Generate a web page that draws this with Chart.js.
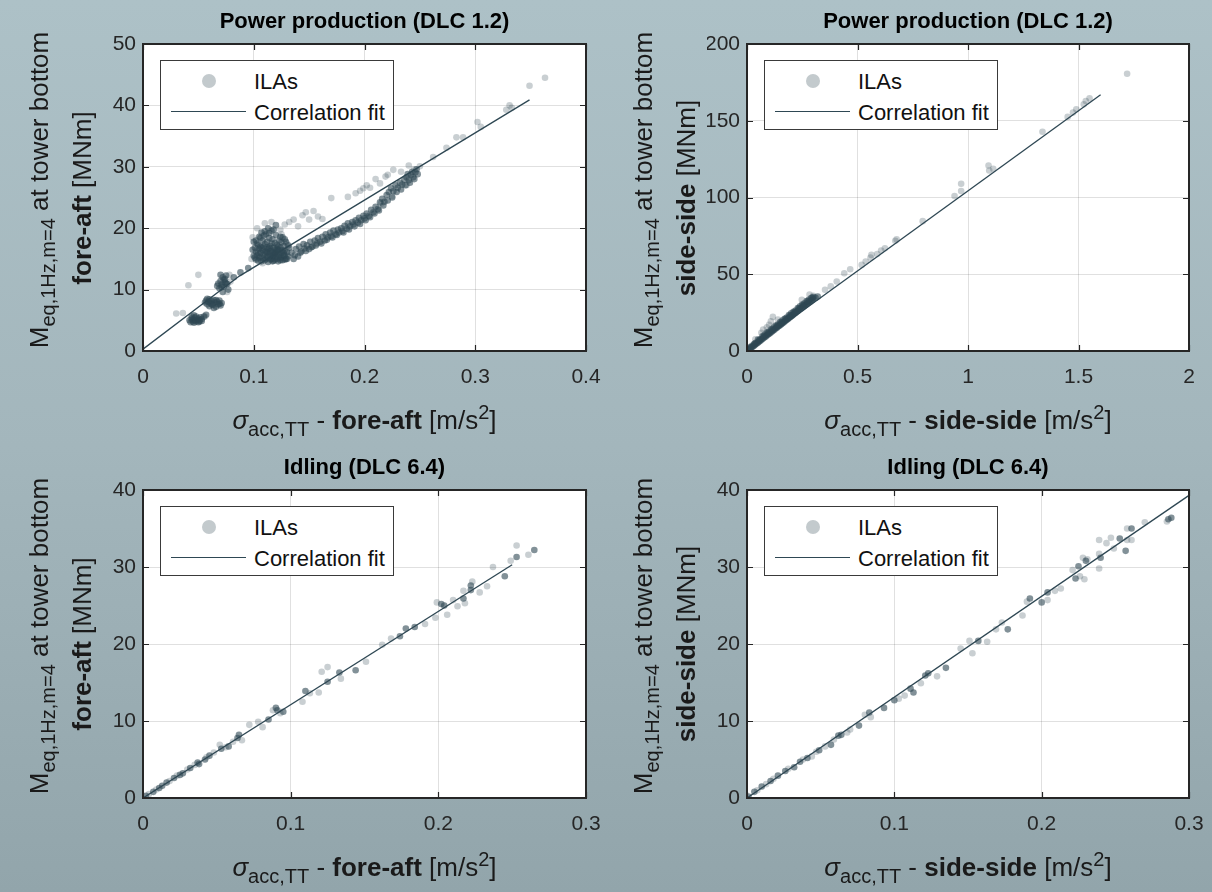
<!DOCTYPE html>
<html>
<head>
<meta charset="utf-8">
<script src="https://cdn.jsdelivr.net/npm/chart.js@4.4.1/dist/chart.umd.min.js"></script>
<style>
  html, body { margin: 0; padding: 0; }
  body {
    width: 1212px; height: 892px; position: relative; overflow: hidden;
    background: linear-gradient(180deg, #adc1c7 0%, #a3b6bc 50%, #92a5ab 100%);
    font-family: 'Liberation Sans', Arial, sans-serif; color: #111;
  }
  canvas { position: absolute; }
  .lbl { position: absolute; white-space: nowrap; transform: translate(-50%, -50%); line-height: 1; }
  .title { font-weight: bold; font-size: 22px; color: #000; }
  .axt { font-size: 26px; color: #1a1a1a; }
  .ylab { transform: translate(-50%, -50%) rotate(-90deg); }
  .axt .sb { font-size: 20px; position: relative; top: 7px; }
  .axt .sp { font-size: 20px; position: relative; top: -10px; }
  .legend { position: absolute; width: 232px; height: 68px; background: #fff; border: 1px solid #3a3a3a; }
  .legend .mk { position: absolute; left: 41px; top: 13px; width: 14px; height: 14px; border-radius: 50%; background: #c3cacd; }
  .legend .ln { position: absolute; left: 10px; top: 50px; width: 75px; height: 0; border-top: 1.3px solid #2e4753; }
  .legend .tx { position: absolute; left: 93px; font-size: 22px; color: #111; line-height: 1; }
</style>
</head>
<body>
<script>
// ---- Text ----
const titles = ['Power production (DLC 1.2)', 'Power production (DLC 1.2)', 'Idling (DLC 6.4)', 'Idling (DLC 6.4)'];
const directions = ['fore-aft', 'side-side', 'fore-aft', 'side-side'];
const legendLabels = ['ILAs', 'Correlation fit'];

// ---- Axis ranges: [min, max, step] ----
const xRanges = [[0, 0.4, 0.1], [0, 2, 0.5], [0, 0.3, 0.1], [0, 0.3, 0.1]];
const yRanges = [[0, 50, 10], [0, 200, 50], [0, 40, 10], [0, 40, 10]];

// ---- Power production, fore-aft ----
const ppFaDense = [
  [0.042,5.0],[0.043,4.7],[0.044,5.3],[0.045,4.8],[0.045,5.1],[0.046,4.6],[0.047,5.0],[0.047,5.4],[0.048,4.8],[0.049,5.1],
  [0.050,4.7],[0.050,5.3],[0.051,5.0],[0.052,5.5],[0.053,5.2],[0.055,5.6],[0.057,5.9],[0.044,5.6],[0.046,5.8],
  [0.048,5.6],[0.051,4.8],[0.053,4.9],
  [0.056,7.9],[0.057,8.2],[0.058,7.6],[0.059,8.0],[0.060,8.4],[0.061,7.8],[0.062,8.1],[0.063,7.5],[0.064,8.3],[0.065,7.9],
  [0.066,7.2],[0.067,8.0],[0.068,7.6],[0.069,8.2],[0.070,7.4],[0.071,7.8],[0.060,7.3],[0.064,7.0],[0.058,8.5],
  [0.062,7.6],[0.066,8.3],[0.069,7.7],
  [0.067,10.6],[0.068,11.0],[0.069,10.2],[0.070,11.4],[0.071,10.8],[0.072,12.0],[0.073,10.5],[0.074,11.2],[0.075,12.3],
  [0.076,10.9],[0.077,10.0],[0.072,9.6],[0.070,12.4],[0.074,11.7],[0.071,10.4],[0.073,11.6],[0.075,11.0],
  [0.082,12.0],[0.088,12.8],[0.095,13.5],
  [0.100,15.5],[0.101,16.8],[0.102,14.9],[0.103,17.5],[0.104,16.0],[0.105,18.6],[0.105,15.2],[0.106,17.0],[0.107,14.6],[0.107,19.3],
  [0.108,16.4],[0.108,18.0],[0.109,15.7],[0.110,17.4],[0.110,14.8],[0.111,16.2],[0.111,19.0],[0.112,15.4],[0.112,17.8],[0.113,16.6],
  [0.113,14.5],[0.114,18.4],[0.114,15.9],[0.115,17.1],[0.115,14.9],[0.116,16.3],[0.116,19.6],[0.117,15.3],[0.117,18.2],[0.118,16.8],
  [0.118,14.7],[0.119,17.6],[0.119,15.8],[0.120,16.2],[0.120,18.9],[0.121,15.0],[0.121,17.3],[0.122,16.5],[0.122,14.6],[0.123,18.0],
  [0.123,15.6],[0.124,16.9],[0.124,15.1],[0.125,17.7],[0.125,16.0],[0.126,14.8],[0.126,18.5],[0.127,15.5],[0.127,17.1],[0.128,16.3],
  [0.129,15.0],[0.129,17.8],[0.130,16.1],[0.131,15.4],[0.132,16.8],[0.104,17.2],[0.109,18.8],[0.113,20.0],[0.118,19.8],[0.120,20.5],
  [0.106,16.0],[0.112,16.1],[0.116,15.0],[0.119,16.5],[0.122,17.0],[0.115,15.5],[0.117,16.0],[0.121,15.9],[0.125,15.3],[0.128,14.9],
  [0.101,15.2],[0.102,16.2],[0.103,15.6],[0.104,14.7],[0.105,16.6],[0.106,15.4],[0.107,16.8],[0.108,15.1],[0.109,17.0],[0.110,16.0],
  [0.111,15.0],[0.112,16.9],[0.113,15.2],[0.114,16.8],[0.115,16.2],[0.116,17.5],[0.117,14.6],[0.118,15.6],[0.119,14.9],[0.120,15.4],
  [0.121,16.6],[0.122,15.3],[0.123,16.3],[0.124,14.8],[0.126,16.4],[0.127,16.0],[0.128,15.6],[0.130,15.0],[0.102,18.0],[0.106,18.4],
  [0.110,19.5],[0.114,19.2],[0.124,18.6],[0.128,18.2],[0.131,17.2],[0.099,16.5],[0.100,17.8],
  [0.134,16.0],[0.136,15.0],[0.138,16.6],[0.140,15.4],[0.141,17.0],[0.143,16.2],[0.145,17.4],[0.146,16.7],[0.148,17.2],[0.150,16.6],
  [0.151,17.8],[0.153,17.0],[0.155,18.0],[0.157,17.5],[0.158,18.4],[0.160,17.8],[0.162,18.6],[0.164,18.0],[0.165,19.0],[0.167,18.5],
  [0.169,19.3],[0.170,18.7],[0.172,19.6],[0.174,19.0],[0.176,19.8],[0.177,19.3],[0.179,20.0],[0.180,19.5],[0.182,20.4],[0.184,19.9],
  [0.185,20.8],[0.187,20.3],[0.189,21.0],[0.190,20.6],[0.192,21.3],[0.194,20.9],[0.195,21.7],[0.197,21.3],[0.199,22.0],[0.200,21.6],
  [0.202,22.4],[0.204,22.0],[0.206,23.0],[0.208,22.6],[0.210,23.5],[0.212,23.1],[0.214,24.2],[0.216,24.8],[0.218,24.3],[0.220,25.4],
  [0.222,25.9],[0.224,26.5],[0.226,26.0],[0.228,27.0],[0.230,26.6],[0.232,27.4],[0.234,27.1],[0.236,27.9],[0.238,28.3],[0.240,27.8],
  [0.242,28.7],[0.244,28.3],[0.246,29.1],[0.248,28.8],
  [0.137,15.6],[0.142,16.0],[0.147,16.3],[0.152,16.9],[0.156,17.2],[0.161,17.5],[0.166,18.1],[0.171,18.5],[0.175,18.9],[0.181,19.3],
  [0.186,19.8],[0.191,20.3],[0.196,20.7],[0.201,21.3],[0.205,21.8],[0.209,22.4],[0.213,22.9],[0.217,23.7],[0.221,24.5],[0.225,25.0],
  [0.229,25.9],[0.233,26.3],[0.237,27.0],[0.241,27.4],[0.245,28.0],[0.247,29.6],[0.243,29.2],[0.239,28.8]
];
const ppFaFaint = [
  [0.030,6.1],[0.036,6.2],[0.041,10.7],[0.050,12.4],[0.056,5.6],[0.078,12.4],[0.079,11.3],[0.076,9.6],[0.098,15.0],[0.099,18.5],
  [0.103,20.0],[0.110,20.8],[0.116,21.0],[0.124,19.8],[0.128,20.6],[0.132,21.0],[0.136,21.4],[0.140,20.3],[0.144,22.1],[0.147,22.6],
  [0.150,21.4],[0.154,22.8],[0.158,21.9],[0.162,21.5],[0.170,24.9],[0.185,25.1],[0.192,25.7],[0.196,26.1],[0.199,26.5],[0.202,27.0],
  [0.205,26.6],[0.210,28.0],[0.214,27.3],[0.219,28.4],[0.221,28.7],[0.226,29.5],[0.233,29.2],[0.240,30.2],[0.245,29.6],[0.250,30.1],
  [0.262,31.6],[0.274,33.1],[0.283,34.8],[0.289,34.8],[0.302,37.3],[0.305,36.5],[0.328,39.3],[0.331,40.0],[0.333,39.6],[0.349,43.2],
  [0.363,44.5],[0.125,19.0],[0.108,14.3],[0.130,17.5],[0.215,24.0],[0.225,25.2],[0.238,27.0]
];
const ppFaFitX = [0, 0.087, 0.349];
const ppFaFitY = [0.3, 12.2, 40.9];

// ---- Power production, side-side ----
const ppSsDense = [
  [0.005,0.6],[0.010,1.2],[0.015,1.6],[0.020,2.2],[0.025,2.8],[0.030,3.3],[0.035,3.9],[0.040,4.5],[0.045,5.0],[0.050,5.6],
  [0.055,6.2],[0.060,6.6],[0.065,7.3],[0.070,8.0],[0.075,8.4],[0.080,9.1],[0.085,9.5],[0.090,10.2],[0.095,10.7],[0.100,11.3],
  [0.105,11.7],[0.110,12.5],[0.115,12.9],[0.120,13.6],[0.125,14.0],[0.130,14.8],[0.135,15.2],[0.140,15.9],[0.145,16.3],[0.150,17.0],
  [0.155,17.4],[0.160,18.1],[0.165,18.6],[0.170,19.2],[0.175,19.8],[0.180,20.4],[0.185,20.9],[0.190,21.6],[0.195,22.0],[0.200,22.7],
  [0.205,23.2],[0.210,23.8],[0.215,24.4],[0.220,25.0],[0.225,25.5],[0.230,26.1],[0.235,26.7],[0.240,27.3],[0.245,27.7],[0.250,28.4],
  [0.255,28.9],[0.260,29.5],[0.265,30.0],[0.270,30.6],[0.275,31.1],[0.280,31.7],[0.285,32.1],[0.290,32.8],[0.295,33.2],[0.300,33.9],
  [0.310,34.6],[0.320,35.5],
  [0.050,7.4],[0.070,9.6],[0.090,12.0],[0.110,14.2],[0.130,16.5],[0.150,18.8],[0.170,21.0],[0.190,23.4],[0.210,25.6],[0.230,28.0],
  [0.250,30.2],[0.270,32.6],[0.290,34.5],[0.080,10.6],[0.120,15.2],[0.160,19.9],[0.200,24.5],[0.240,29.2],[0.280,33.4],
  [0.020,3.0],[0.030,4.2],[0.040,5.4],[0.060,7.7],[0.100,12.6],[0.140,17.2],[0.180,21.8],[0.220,26.4],[0.260,31.0],[0.300,35.2],
  [0.015,2.4],[0.035,4.8],[0.055,7.0],[0.075,9.4],[0.095,11.7],[0.115,13.9],[0.135,16.3],[0.155,18.5],[0.175,20.9],[0.195,23.1],
  [0.215,25.4],[0.235,27.8],[0.255,30.0],[0.275,32.4],[0.295,34.7]
];
const ppSsFaint = [
  [0.038,7.6],[0.065,11.9],[0.073,14.0],[0.108,19.4],[0.117,22.2],[0.090,15.5],[0.100,17.0],[0.140,20.5],[0.248,33.4],[0.283,36.7],
  [0.300,36.0],[0.353,39.9],[0.379,42.1],[0.406,45.3],[0.440,50.7],[0.467,53.3],[0.519,56.1],[0.537,58.3],[0.559,60.8],[0.563,62.6],
  [0.589,63.2],[0.607,65.4],[0.624,66.9],[0.671,71.8],[0.677,72.7],[0.795,84.6],[0.939,101.0],[0.969,104.2],[0.969,109.0],[1.093,120.8],
  [1.096,117.6],[1.114,118.7],[1.337,142.8],[1.451,152.5],[1.475,155.3],[1.490,157.5],[1.524,160.7],[1.533,162.9],[1.550,164.6],[1.720,180.6]
];
const ppSsFitX = [0, 1.6];
const ppSsFitY = [0, 167];

// ---- Idling, fore-aft ----
const idFaDense = [
  [0.265,32.2],[0.253,31.3],[0.245,28.8],[0.222,27.6],[0.222,27.0],[0.217,25.9],[0.202,25.2],[0.184,22.2],[0.178,22.0],[0.174,21.0],
  [0.144,16.6],[0.133,16.3],[0.125,15.1],[0.110,13.9],[0.095,11.2],[0.090,11.7],[0.085,10.2],[0.065,8.2],[0.064,7.8],[0.058,6.7],
  [0.053,6.4],[0.045,5.5],[0.042,5.0],[0.037,4.6],[0.032,3.9],[0.027,3.2],[0.021,2.6],[0.016,2.0],[0.011,1.3],[0.007,0.8],
  [0.002,0.3],[0.091,11.4],[0.204,25.0],[0.038,4.4],[0.025,3.0],[0.013,1.6]
];
const idFaFaint = [
  [0.253,32.8],[0.261,31.6],[0.249,30.8],[0.237,30.0],[0.233,27.5],[0.228,26.7],[0.223,28.1],[0.217,26.9],[0.218,25.3],[0.213,24.9],
  [0.210,25.7],[0.206,23.8],[0.199,25.4],[0.198,23.4],[0.191,22.6],[0.168,20.7],[0.162,19.9],[0.151,17.7],[0.134,15.5],[0.125,17.0],
  [0.121,16.4],[0.119,13.7],[0.113,13.6],[0.108,12.5],[0.088,11.4],[0.093,11.0],[0.081,9.2],[0.078,9.9],[0.072,9.5],[0.067,7.5],
  [0.052,6.9],[0.048,5.9],[0.035,4.3],[0.030,3.7],[0.023,2.9],[0.018,2.2],[0.009,1.1],[0.004,0.5],[0.061,7.3],[0.056,6.6],[0.043,5.3]
];
const idFaFitX = [0, 0.25];
const idFaFitY = [0, 30.3];

// ---- Idling, side-side ----
const idSsDense = [
  [0.288,36.4],[0.261,35.0],[0.253,33.7],[0.257,32.1],[0.240,31.2],[0.230,30.8],[0.225,30.1],[0.223,28.5],[0.204,26.7],[0.200,25.4],
  [0.192,25.9],[0.177,21.9],[0.157,20.4],[0.135,16.9],[0.123,16.2],[0.121,15.9],[0.113,13.7],[0.111,14.2],[0.100,12.7],[0.093,11.7],
  [0.083,11.1],[0.076,9.4],[0.064,8.2],[0.062,8.1],[0.057,6.9],[0.049,6.2],[0.032,4.0],[0.026,3.5],[0.021,2.9],[0.016,2.2],
  [0.010,1.5],[0.005,0.8],[0.001,0.2],[0.286,36.2],[0.041,5.2],[0.036,4.7]
];
const idSsFaint = [
  [0.285,35.9],[0.270,35.8],[0.258,35.0],[0.258,33.5],[0.261,33.5],[0.247,33.8],[0.244,33.1],[0.249,32.4],[0.239,33.5],[0.239,31.7],
  [0.239,29.8],[0.228,31.2],[0.231,31.0],[0.221,29.6],[0.229,28.4],[0.226,28.8],[0.213,27.2],[0.209,26.9],[0.204,25.7],[0.190,25.5],
  [0.187,23.7],[0.173,22.8],[0.169,21.9],[0.163,20.3],[0.151,20.4],[0.153,18.8],[0.145,19.4],[0.129,15.8],[0.118,14.9],[0.107,13.3],
  [0.103,12.9],[0.084,10.5],[0.068,8.5],[0.053,6.7],[0.044,5.4],[0.038,5.0],[0.080,10.8],[0.070,8.9],[0.059,7.6],[0.047,6.0],
  [0.028,3.8],[0.018,2.5],[0.013,1.8],[0.007,1.0]
];
const idSsFitX = [0, 0.3];
const idSsFitY = [0, 39.3];

// ---- Panel arrangement ----
const series = [
  { dense: ppFaDense, faint: ppFaFaint, fitX: ppFaFitX, fitY: ppFaFitY },
  { dense: ppSsDense, faint: ppSsFaint, fitX: ppSsFitX, fitY: ppSsFitY },
  { dense: idFaDense, faint: idFaFaint, fitX: idFaFitX, fitY: idFaFitY },
  { dense: idSsDense, faint: idSsFaint, fitX: idSsFitX, fitY: idSsFitY }
];
// canvas origin and plot box (page pixels)
const boxes = [
  { cx: 0,   cy: 0,   left: 143, right: 586,  top: 44,  bottom: 351 },
  { cx: 606, cy: 0,   left: 747, right: 1189, top: 44,  bottom: 351 },
  { cx: 0,   cy: 446, left: 143, right: 586,  top: 490, bottom: 798 },
  { cx: 606, cy: 446, left: 747, right: 1189, top: 490, bottom: 798 }
];
const CW = 606, CH = 446, Y_AXIS_W = 40, X_AXIS_H = 34;
const MARK = '#2e4753';
const TICK_FONT = { family: "'Liberation Sans', Arial, sans-serif", size: 21 };

const toPts = arr => arr.map(p => ({ x: p[0], y: p[1] }));
const fmt = v => String(Number(v.toFixed(3)));

// white plot background, black box and inward tick marks on all four sides
const framePlugin = {
  id: 'frame',
  beforeDraw(chart) {
    const a = chart.chartArea, ctx = chart.ctx;
    ctx.save();
    ctx.fillStyle = '#ffffff';
    ctx.fillRect(a.left, a.top, a.right - a.left, a.bottom - a.top);
    ctx.restore();
  },
  afterDraw(chart) {
    const a = chart.chartArea, ctx = chart.ctx;
    const xs = chart.scales.x, ys = chart.scales.y;
    const L = 6;
    ctx.save();
    ctx.strokeStyle = '#262626';
    ctx.lineWidth = 1.2;
    ctx.beginPath();
    xs.ticks.forEach(t => {
      const p = Math.round(xs.getPixelForValue(t.value)) + 0.5;
      ctx.moveTo(p, a.bottom); ctx.lineTo(p, a.bottom - L);
      ctx.moveTo(p, a.top); ctx.lineTo(p, a.top + L);
    });
    ys.ticks.forEach(t => {
      const p = Math.round(ys.getPixelForValue(t.value)) + 0.5;
      ctx.moveTo(a.left, p); ctx.lineTo(a.left + L, p);
      ctx.moveTo(a.right, p); ctx.lineTo(a.right - L, p);
    });
    ctx.stroke();
    ctx.lineWidth = 2;
    ctx.strokeRect(a.left, a.top, a.right - a.left, a.bottom - a.top);
    ctx.restore();
  }
};

function addLabel(cls, html, x, y) {
  const d = document.createElement('div');
  d.className = 'lbl ' + cls;
  d.innerHTML = html;
  d.style.left = x + 'px';
  d.style.top = y + 'px';
  document.body.appendChild(d);
}

function scatterSet(label, pts, color) {
  return {
    label, data: toPts(pts),
    pointRadius: 3.3, pointBorderWidth: 0, borderWidth: 0,
    pointBackgroundColor: color, backgroundColor: color,
    pointBorderColor: 'rgba(0,0,0,0)', borderColor: 'rgba(0,0,0,0)'
  };
}

boxes.forEach((b, i) => {
  const s = series[i];
  const cv = document.createElement('canvas');
  cv.width = CW; cv.height = CH;
  cv.style.left = b.cx + 'px'; cv.style.top = b.cy + 'px';
  document.body.appendChild(cv);

  const [xmin, xmax, xstep] = xRanges[i];
  const [ymin, ymax, ystep] = yRanges[i];

  new Chart(cv, {
    type: 'scatter',
    data: {
      datasets: [
        {
          label: legendLabels[1],
          data: s.fitX.map((x, k) => ({ x, y: s.fitY[k] })),
          showLine: true, borderColor: MARK, borderWidth: 1.3,
          pointRadius: 0, fill: false, tension: 0
        },
        scatterSet(legendLabels[0], s.dense, 'rgba(46,71,83,0.6)'),
        scatterSet(legendLabels[0], s.faint, 'rgba(46,71,83,0.26)')
      ]
    },
    options: {
      responsive: false, animation: false, events: [],
      layout: {
        padding: {
          left: b.left - b.cx - Y_AXIS_W,
          right: b.cx + CW - b.right,
          top: b.top - b.cy,
          bottom: b.cy + CH - b.bottom - X_AXIS_H
        }
      },
      plugins: { legend: { display: false }, tooltip: { enabled: false }, title: { display: false } },
      scales: {
        x: {
          type: 'linear', min: xmin, max: xmax,
          ticks: { stepSize: xstep, color: '#262626', font: TICK_FONT, padding: 14, maxRotation: 0, autoSkip: false,
                   callback: v => fmt(v) },
          grid: { color: 'rgba(38,38,38,0.14)', lineWidth: 1, drawTicks: false },
          border: { display: false },
          // fixed band height; end labels may overhang into the padding
          afterFit: sc => { sc.height = X_AXIS_H; sc.paddingLeft = 0; sc.paddingRight = 0; }
        },
        y: {
          type: 'linear', min: ymin, max: ymax,
          ticks: { stepSize: ystep, color: '#262626', font: TICK_FONT, padding: 7, autoSkip: false,
                   callback: v => fmt(v) },
          grid: { color: 'rgba(38,38,38,0.14)', lineWidth: 1, drawTicks: false },
          border: { display: false },
          afterFit: sc => { sc.width = Y_AXIS_W; sc.paddingTop = 0; sc.paddingBottom = 0; }
        }
      }
    },
    plugins: [framePlugin]
  });

  const midX = (b.left + b.right) / 2, midY = (b.top + b.bottom) / 2;
  const dir = directions[i];
  addLabel('title', titles[i], midX, b.top - 23);
  addLabel('axt', '<i>σ</i><span class="sb">acc,TT</span> - <b>' + dir + '</b> [m/s<span class="sp">2</span>]', midX, b.bottom + 69);
  addLabel('axt ylab', 'M<span class="sb">eq,1Hz,m=4</span> at tower bottom', b.left - 104, midY - 8);
  addLabel('axt ylab', '<b>' + dir + '</b> [MNm]', b.left - 61, midY);

  const lg = document.createElement('div');
  lg.className = 'legend';
  lg.style.left = (b.left + 17) + 'px';
  lg.style.top = (b.top + 16) + 'px';
  lg.innerHTML = '<div class="mk"></div><div class="tx" style="top:10px">' + legendLabels[0] +
                 '</div><div class="ln"></div><div class="tx" style="top:41px">' + legendLabels[1] + '</div>';
  document.body.appendChild(lg);
});
</script>
</body>
</html>
